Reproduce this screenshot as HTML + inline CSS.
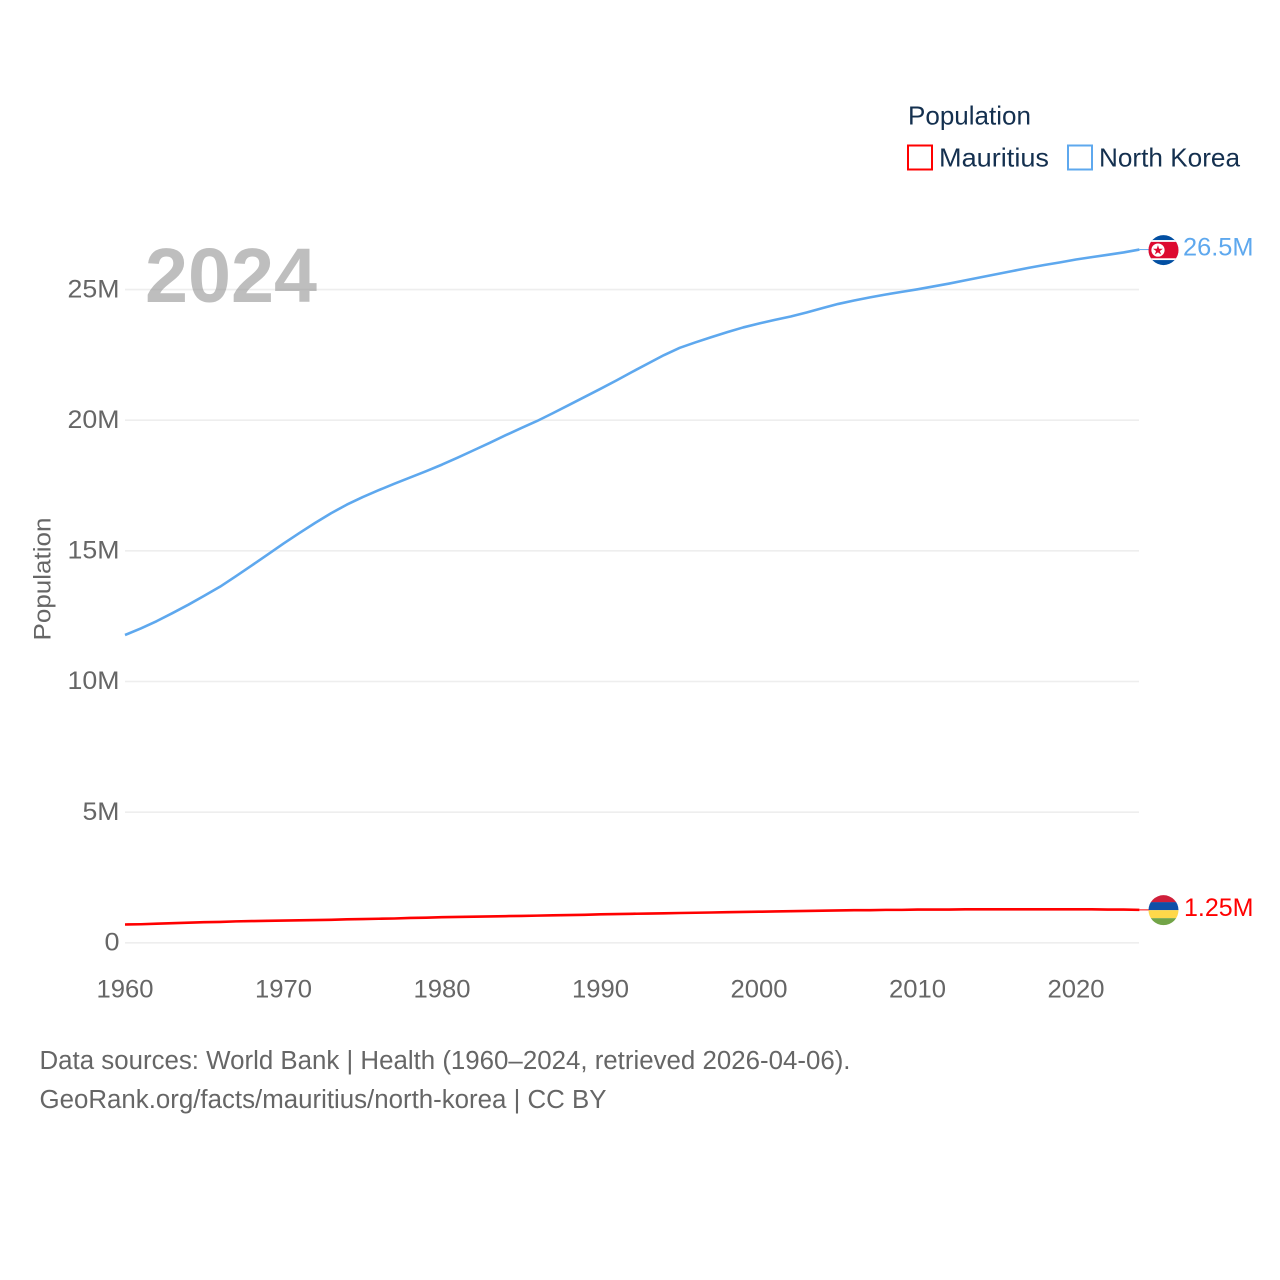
<!DOCTYPE html>
<html lang="en">
<head>
<meta charset="utf-8">
<title>Population: Mauritius and North Korea</title>
<style>
html,body{margin:0;padding:0;background:#fff;}
svg{display:block;font-family:"Liberation Sans",sans-serif;}
</style>
</head>
<body>
<svg id="chart" width="1280" height="1280" viewBox="0 0 1280 1280" xmlns="http://www.w3.org/2000/svg">
  <defs>
    <clipPath id="flag-clip-kp"><circle id="clip-kp" cx="1163.5" cy="249.5" r="15"></circle></clipPath>
    <clipPath id="flag-clip-mu"><circle id="clip-mu" cx="1163.5" cy="909.5" r="15"></circle></clipPath>
  </defs>
  <rect x="0" y="0" width="1280" height="1280" fill="#ffffff"></rect>
  <g id="grid"></g>
  <g id="y-ticks"></g>
  <g id="x-ticks"></g>
  <text transform="translate(50.5,640.5) rotate(-90)" font-size="24.5" fill="#666666" textLength="123" lengthAdjust="spacingAndGlyphs">Population</text>
  <text x="145" y="302" font-size="77" font-weight="bold" fill="#8f8f8f" fill-opacity="0.58" textLength="172" lengthAdjust="spacingAndGlyphs">2024</text>
  <g id="series"></g>
  <g id="ends"></g>
  <g>
    <text x="908" y="124.5" font-size="26" fill="#14304f" textLength="123" lengthAdjust="spacingAndGlyphs">Population</text>
    <rect x="908" y="145.5" width="24" height="24" fill="none" stroke="#ff0000" stroke-width="2"></rect>
    <text x="939" y="166.5" font-size="26" fill="#14304f" textLength="110" lengthAdjust="spacingAndGlyphs">Mauritius</text>
    <rect x="1068" y="145.5" width="24" height="24" fill="none" stroke="#5ea8ee" stroke-width="2"></rect>
    <text x="1099" y="166.5" font-size="26" fill="#14304f" textLength="141" lengthAdjust="spacingAndGlyphs">North Korea</text>
  </g>
  <g>
    <text x="39.5" y="1069" font-size="25.5" fill="#666666" textLength="811" lengthAdjust="spacingAndGlyphs">Data sources: World Bank | Health (1960–2024, retrieved 2026-04-06).</text>
    <text x="39.5" y="1108" font-size="25.5" fill="#666666" textLength="567" lengthAdjust="spacingAndGlyphs">GeoRank.org/facts/mauritius/north-korea | CC BY</text>
  </g>
</svg>
<script>
const startYear = 1960;
const northKorea = [11.78,12.03,12.31,12.62,12.94,13.28,13.63,14.03,14.44,14.86,15.28,15.68,16.07,16.44,16.77,17.06,17.32,17.57,17.81,18.05,18.30,18.57,18.85,19.13,19.42,19.70,19.97,20.27,20.58,20.89,21.20,21.52,21.85,22.17,22.49,22.77,22.98,23.18,23.37,23.55,23.70,23.84,23.97,24.12,24.29,24.45,24.58,24.70,24.81,24.91,25.01,25.12,25.23,25.35,25.47,25.59,25.71,25.83,25.94,26.04,26.15,26.24,26.33,26.42,26.53];
const mauritius = [0.70,0.71,0.73,0.75,0.77,0.79,0.80,0.82,0.83,0.84,0.85,0.86,0.87,0.88,0.90,0.91,0.92,0.93,0.95,0.96,0.98,0.99,1.00,1.01,1.02,1.03,1.04,1.05,1.06,1.07,1.09,1.10,1.11,1.12,1.13,1.14,1.15,1.16,1.17,1.18,1.19,1.20,1.21,1.22,1.23,1.24,1.25,1.25,1.26,1.26,1.27,1.27,1.27,1.28,1.28,1.28,1.28,1.28,1.28,1.28,1.28,1.28,1.27,1.27,1.26];
const yTickValues = [0,5,10,15,20,25];
const yTickLabels = ["0","5M","10M","15M","20M","25M"];
const xTickYears = [1960,1970,1980,1990,2000,2010,2020];
const endLabels = ["26.5M","1.25M"];

const NS = "http://www.w3.org/2000/svg";
function xScale(year){ return 125 + (year - 1960) * 15.85; }
function yScale(v){ return 942.8 - v * 26.13; }
function make(tag, attrs, parent, txt){
  const e = document.createElementNS(NS, tag);
  for (const k in attrs) e.setAttribute(k, attrs[k]);
  if (txt !== undefined) e.textContent = txt;
  parent.appendChild(e);
  return e;
}
function linePath(vals){
  return vals.map(function(v,i){
    return (i ? "L" : "M") + xScale(startYear + i).toFixed(2) + " " + yScale(v).toFixed(2);
  }).join(" ");
}

const grid = document.getElementById("grid");
const yG = document.getElementById("y-ticks");
const xG = document.getElementById("x-ticks");
const yWidths = {"0":15,"5M":37,"10M":52,"15M":52,"20M":52,"25M":52};
yTickValues.forEach(function(v,i){
  const g = make("line",{x1:125,x2:1139,y1:yScale(v),y2:yScale(v),stroke:"#eeeeee","stroke-width":1.6},grid);
  
  
  const lab = yTickLabels[i];
  const t = make("text",{x:119.5,y:yScale(v)+7.7,"text-anchor":"end","font-size":25,fill:"#666666",textLength:yWidths[lab],lengthAdjust:"spacingAndGlyphs"},yG,lab);
  
  
});
xTickYears.forEach(function(y){
  const t = make("text",{x:xScale(y),y:997.5,"text-anchor":"middle","font-size":25,fill:"#666666",textLength:57,lengthAdjust:"spacingAndGlyphs"},xG,String(y));
  
  
});

const series = document.getElementById("series");
const lineKp = make("path",{d:linePath(northKorea),fill:"none",stroke:"#5ea8ee","stroke-width":2.6,"stroke-linejoin":"round"},series);


const lineMu = make("path",{d:linePath(mauritius),fill:"none",stroke:"#ff0000","stroke-width":2.6,"stroke-linejoin":"round"},series);



const ends = document.getElementById("ends");
const lastX = xScale(startYear + northKorea.length - 1);
const yKp = yScale(northKorea[northKorea.length - 1]);
const yMu = yScale(mauritius[mauritius.length - 1]);
const cx = 1163.5;

const leadKp = make("line",{x1:lastX,x2:cx-14,y1:yKp,y2:yKp,stroke:"#5ea8ee","stroke-width":1},ends);


const leadMu = make("line",{x1:lastX,x2:cx-14,y1:yMu,y2:yMu,stroke:"#ff0000","stroke-width":1},ends);



document.getElementById("clip-kp").setAttribute("cy", yKp + 0.5);
document.getElementById("clip-mu").setAttribute("cy", yMu + 0.3);

const flagKp = make("g",{"clip-path":"url(#flag-clip-kp)"},ends);


const k0 = yKp + 0.5;
make("rect",{x:cx-16,y:k0-16,width:32,height:32,fill:"#024fa2"},flagKp);
make("rect",{x:cx-16,y:k0-10,width:32,height:20,fill:"#ffffff"},flagKp);
make("rect",{x:cx-16,y:k0-8.2,width:32,height:16.4,fill:"#dd0a30"},flagKp);
make("circle",{cx:cx-5.5,cy:k0,r:6.6,fill:"#ffffff"},flagKp);
make("text",{x:cx-5.5,y:k0+4.6,"text-anchor":"middle","font-size":13,fill:"#dd0a30",style:'font-family:"DejaVu Sans",sans-serif'},flagKp,"★");

const flagMu = make("g",{"clip-path":"url(#flag-clip-mu)"},ends);


const m0 = yMu + 0.3;
make("rect",{x:cx-16,y:m0-16,width:32,height:8.2,fill:"#cf1f3a"},flagMu);
make("rect",{x:cx-16,y:m0-8,width:32,height:8,fill:"#0f50a8"},flagMu);
make("rect",{x:cx-16,y:m0,width:32,height:8,fill:"#ffd84a"},flagMu);
make("rect",{x:cx-16,y:m0+8,width:32,height:8,fill:"#72a447"},flagMu);

const labKp = make("text",{x:1183,y:yKp+6,"font-size":25,fill:"#5ea8ee",textLength:70.5,lengthAdjust:"spacingAndGlyphs"},ends,endLabels[0]);


const labMu = make("text",{x:1184,y:yMu+6,"font-size":25,fill:"#ff0000",textLength:69.5,lengthAdjust:"spacingAndGlyphs"},ends,endLabels[1]);


</script>
</body>
</html>
